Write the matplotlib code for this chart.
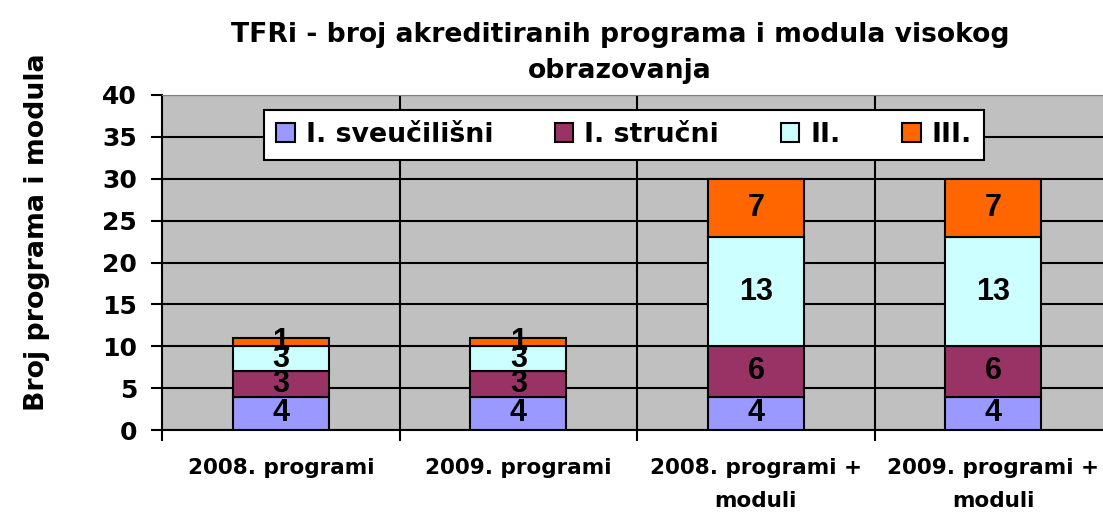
import matplotlib.pyplot as plt
import numpy as np

plt.rcParams['font.family'] = ['DejaVu Sans']
plt.rcParams['font.weight'] = 'bold'

categories = ['2008. programi', '2009. programi', '2008. programi +\nmoduli', '2009. programi +\nmoduli']
series = ['I. sveučilišni', 'I. stručni', 'II.', 'III.']
sveucilisni = [4, 4, 4, 4]
strucni = [3, 3, 6, 6]
drugi = [3, 3, 13, 13]
treci = [1, 1, 7, 7]
colors = ['#9999FF', '#993366', '#CCFFFF', '#FF6600']

fig = plt.figure(figsize=(11.03, 5.12), dpi=100)
ax = fig.add_axes([0.1469, 0.160, 0.8615, 0.6545])
ax.set_facecolor('#C0C0C0')

x = np.arange(len(categories))
bottom = np.zeros(len(categories))
for name, vals, c in zip(series, [sveucilisni, strucni, drugi, treci], colors):
    ax.bar(x, vals, 0.404, bottom=bottom, color=c, edgecolor='black', linewidth=1.5, label=name, zorder=3)
    for xi, b, v in zip(x, bottom, vals):
        ax.text(xi, b + v / 2, str(v), ha='center', va='center', fontsize=22, fontweight='bold',
                family=['Liberation Sans', 'DejaVu Sans'], zorder=4)
    bottom += vals

ax.set_xlim(-0.5, len(categories) - 0.5)
ax.set_ylim(0, 40)
ax.set_yticks(range(0, 41, 5))
ax.yaxis.grid(True, color='black', linewidth=1.5, zorder=1)
ax.set_xticks(np.arange(len(categories) + 1) - 0.5)
ax.set_xticklabels([])
ax.set_xticks(x, minor=True)
ax.set_xticklabels(categories, minor=True, fontsize=15.5, fontweight='bold', linespacing=1.8)
ax.tick_params(axis='x', which='minor', length=0, pad=20)
ax.tick_params(axis='x', which='major', length=8, width=1.5)
ax.tick_params(axis='y', length=8, width=1.5, labelsize=18, pad=10)
for xb in np.arange(1, len(categories)) - 0.5:
    ax.axvline(xb, color='black', linewidth=1.5, zorder=1)
ax.spines['left'].set_linewidth(1.5)
ax.spines['bottom'].set_linewidth(1.5)
ax.spines['top'].set_color('#808080')
ax.spines['right'].set_visible(False)

ax.set_ylabel('Broj programa i modula', fontsize=19.3, fontweight='bold')
ax.yaxis.set_label_coords(-0.118, 0.59)
ax.set_title('TFRi - broj akreditiranih programa i modula visokog\nobrazovanja', fontsize=19.2,
             fontweight='bold', pad=12, x=0.482, linespacing=1.5)

leg = ax.legend(loc='upper center', bbox_to_anchor=(0.486, 0.955), ncol=4, fontsize=19.3, frameon=True,
                fancybox=False, edgecolor='black', framealpha=1, handlelength=0.7, handleheight=0.7,
                handletextpad=0.4, columnspacing=2.3, borderpad=0.45, borderaxespad=0)
leg.get_frame().set_linewidth(1.5)
leg.set_zorder(5)

plt.savefig('out.png', dpi=100)
